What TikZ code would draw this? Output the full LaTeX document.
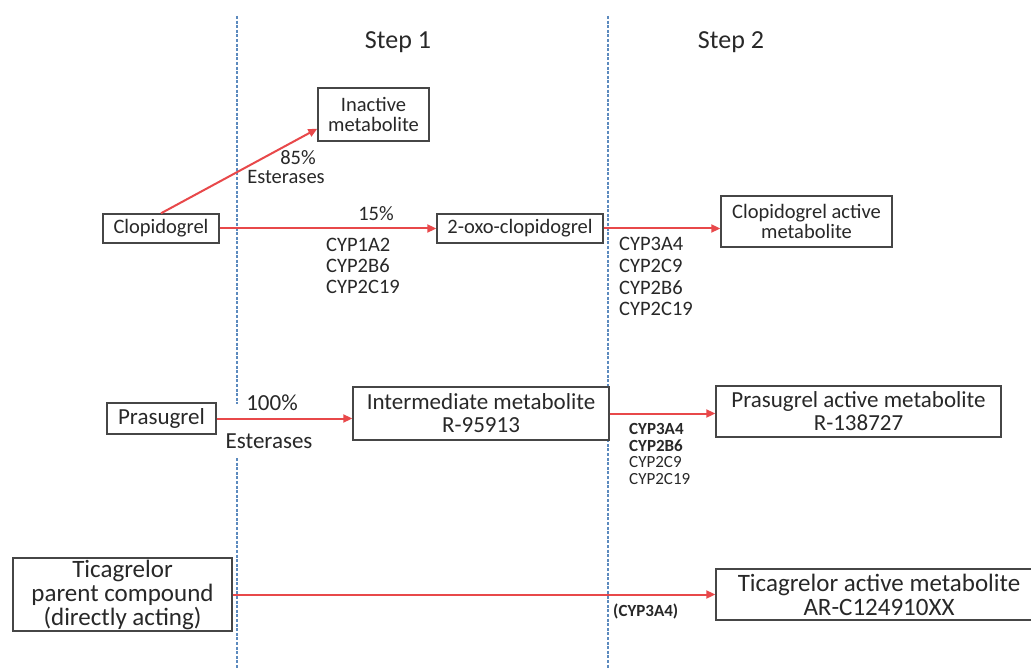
\documentclass[tikz,border=0pt]{standalone}
\usepackage{fontspec}
\setmainfont{Carlito}
\usetikzlibrary{arrows.meta,calc}
\definecolor{arrred}{RGB}{232,72,74}
\definecolor{sepblue}{RGB}{92,138,190}
\definecolor{boxgray}{RGB}{70,70,70}
\definecolor{txtgray}{RGB}{40,40,40}
\tikzset{
  mbox/.style={draw=boxgray, line width=1.4pt, fill=white, inner sep=0pt, align=center, text=txtgray},
  rowa/.style={font=\fontsize{20.5}{20.5}\selectfont},
  rowb/.style={font=\fontsize{23}{23}\selectfont},
  rowc/.style={font=\fontsize{25}{24}\selectfont},
  lbl/.style={text=txtgray, inner sep=0pt},
  flow/.style={draw=arrred, line width=2pt, -{Triangle[length=9pt,width=8pt]}},
  sep/.style={draw=sepblue, line width=2pt, dash pattern=on 3pt off 1.6pt}
}
\begin{document}
\begin{tikzpicture}[x=1pt,y=-1pt]
\useasboundingbox (0,0) rectangle (1031,668);
\clip (0,0) rectangle (1031,668);
\fill[white] (0,0) rectangle (1031,668);
% separators
\draw[sep] (237,16) -- (237,404);
\draw[sep] (237,458) -- (237,668);
\draw[sep] (608,16) -- (608,668);
% step headings
\node[lbl, font=\fontsize{26}{26}\selectfont] (s1) at (398,42) {Step 1};
\node[lbl, font=\fontsize{26}{26}\selectfont] (s2) at (731,42) {Step 2};
% row 1
\node[mbox, rowa, minimum width=111pt, minimum height=53pt] (inact) at (373.5,114.5) {Inactive\\metabolite};
\node[mbox, rowa, minimum width=116pt, minimum height=29pt] (clop) at (161,228.5) {Clopidogrel};
\node[mbox, rowa, minimum width=166pt, minimum height=29pt] (oxo) at (520,228.5) {2-oxo-clopidogrel};
\node[mbox, rowa, minimum width=171pt, minimum height=51pt] (clopam) at (806.5,221.5) {Clopidogrel active\\metabolite};
\coordinate (inactin) at ($(inact.south west)+(0,-13)$);
\draw[flow] (clop.north) -- (inactin);
\draw[flow] (clop.east) -- (oxo.west);
\draw[flow] (oxo.east) -- (oxo.east -| clopam.west);
\node[lbl, rowa] (p85) at (298,158) {85\%};
\node[lbl, rowa] (est1) at (286,177) {Esterases};
\node[lbl, rowa] (p15) at (376,214) {15\%};
\node[lbl, rowa, anchor=west] (c1a) at (326,245) {CYP1A2};
\node[lbl, rowa, anchor=west] (c1b) at (326,266) {CYP2B6};
\node[lbl, rowa, anchor=west] (c1c) at (326,287) {CYP2C19};
\node[lbl, rowa, anchor=west] (c2a) at (619,244) {CYP3A4};
\node[lbl, rowa, anchor=west] (c2b) at (619,266) {CYP2C9};
\node[lbl, rowa, anchor=west] (c2c) at (619,288) {CYP2B6};
\node[lbl, rowa, anchor=west] (c2d) at (619,309) {CYP2C19};
% row 2
\node[mbox, rowb, minimum width=109pt, minimum height=31pt] (pras) at (161.5,418.5) {Prasugrel};
\node[mbox, rowb, minimum width=256pt, minimum height=53pt] (interm) at (481,413.5) {Intermediate metabolite\\R-95913};
\node[mbox, rowb, minimum width=285pt, minimum height=51pt] (prasam) at (858.5,411.5) {Prasugrel active metabolite\\R-138727};
\draw[flow] (pras.east) -- (pras.east -| interm.west);
\draw[flow] (interm.east) -- (interm.east -| prasam.west);
\node[lbl, rowb] (p100) at (272,403) {100\%};
\node[lbl, rowb] (est2) at (269,441) {Esterases};
\node[lbl, font=\fontsize{17}{17}\selectfont\bfseries, anchor=west] (c3a) at (629,429) {CYP3A4};
\node[lbl, font=\fontsize{17}{17}\selectfont\bfseries, anchor=west] (c3b) at (629,446) {CYP2B6};
\node[lbl, font=\fontsize{17}{17}\selectfont, anchor=west] (c3c) at (629,462) {CYP2C9};
\node[lbl, font=\fontsize{17}{17}\selectfont, anchor=west] (c3d) at (629,479) {CYP2C19};
% row 3
\node[mbox, rowc, minimum width=219pt, minimum height=73pt] (tica) at (122.5,594.5) {Ticagrelor\\parent compound\\(directly acting)};
\node[mbox, rowc, minimum width=326pt, minimum height=51pt] (ticam) at (879,594.5) {Ticagrelor active metabolite\\AR-C124910XX};
\draw[flow] (tica.east) -- (ticam.west);
\node[lbl, font=\fontsize{17}{17}\selectfont\bfseries, anchor=west] (c4) at (613,611) {(CYP3A4)};
\end{tikzpicture}
\end{document}
